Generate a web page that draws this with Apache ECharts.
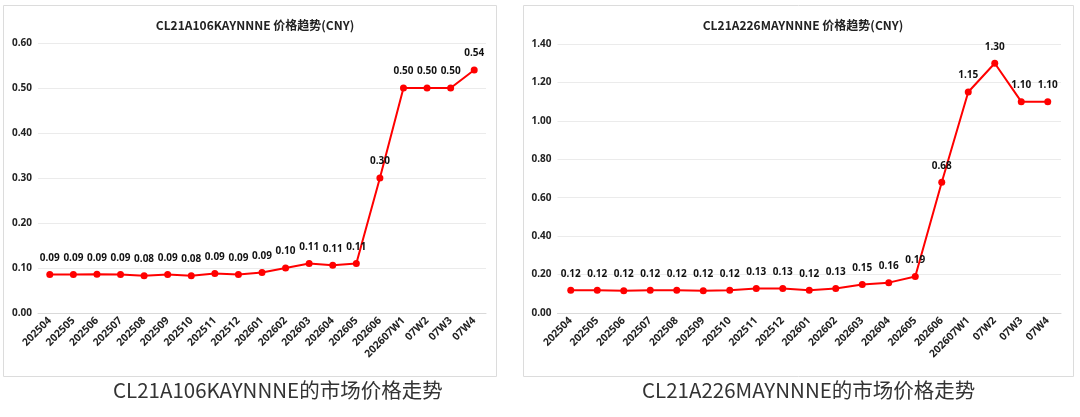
<!DOCTYPE html>
<html>
<head>
<meta charset="utf-8">
<script src="https://cdn.jsdelivr.net/npm/echarts@6/dist/echarts.min.js"></script>
<style>
  html, body { margin: 0; padding: 0; background: #fff; }
  #chart { width: 1080px; height: 417px; }
</style>
</head>
<body>
<div id="chart"></div>
<script>
// categories shared by both charts
const periods = ['202504', '202505', '202506', '202507', '202508', '202509', '202510', '202511', '202512',
    '202601', '202602', '202603', '202604', '202605', '202606', '202607W1', '07W2', '07W3', '07W4'];

// CL21A106KAYNNNE price (CNY)
const priceKay = [0.0855, 0.0855, 0.086, 0.0855, 0.083, 0.0855, 0.083, 0.088, 0.0855,
    0.09, 0.10, 0.11, 0.106, 0.11, 0.30, 0.50, 0.50, 0.50, 0.54];

// CL21A226MAYNNNE price (CNY)
const priceMay = [0.118, 0.118, 0.116, 0.118, 0.118, 0.116, 0.118, 0.127, 0.127,
    0.118, 0.127, 0.148, 0.158, 0.19, 0.68, 1.15, 1.30, 1.10, 1.10];

const chartTitles = ['CL21A106KAYNNNE 价格趋势(CNY)', 'CL21A226MAYNNNE 价格趋势(CNY)'];
const captions = ['CL21A106KAYNNNE的市场价格走势', 'CL21A226MAYNNNE的市场价格走势'];

const font = '"Noto Sans", "Noto Sans CJK SC", sans-serif';
const cjkFont = '"Noto Sans CJK SC", "Noto Sans", sans-serif';

const myChart = echarts.init(document.getElementById('chart'), null, {renderer: 'canvas'});

function xAxisFor(idx) {
    return {
        type: 'category',
        gridIndex: idx,
        data: periods,
        boundaryGap: true,
        axisLine: {lineStyle: {color: '#d9d9d9'}},
        axisTick: {show: false},
        axisLabel: {
            rotate: 45,
            interval: 0,
            margin: 6,
            color: '#222',
            fontSize: 10.5,
            fontWeight: 'bold',
            fontFamily: font
        }
    };
}

function yAxisFor(idx, max, step) {
    return {
        type: 'value',
        gridIndex: idx,
        min: 0,
        max: max,
        interval: step,
        axisLine: {show: false},
        axisTick: {show: false},
        splitLine: {lineStyle: {color: '#ebebeb'}},
        axisLabel: {
            color: '#222',
            fontSize: 10,
            fontWeight: 'bold',
            fontFamily: font,
            margin: 6,
            formatter: v => v.toFixed(2)
        }
    };
}

function lineFor(idx, data) {
    return {
        type: 'line',
        xAxisIndex: idx,
        yAxisIndex: idx,
        data: data,
        symbol: 'circle',
        symbolSize: 7,
        lineStyle: {color: '#ff0000', width: 2},
        itemStyle: {color: '#ff0000'},
        label: {
            show: true,
            position: 'top',
            distance: 8,
            color: '#111',
            fontSize: 10,
            fontWeight: 'bold',
            fontFamily: font,
            formatter: p => p.value.toFixed(2)
        },
        animation: false
    };
}

const option = {
    backgroundColor: '#ffffff',
    animation: false,
    title: [
        {
            text: chartTitles[0], left: 250, top: 14, textAlign: 'center',
            textStyle: {fontSize: 12, fontWeight: 'bold', color: '#222', fontFamily: cjkFont}
        },
        {
            text: chartTitles[1], left: 798, top: 14, textAlign: 'center',
            textStyle: {fontSize: 12, fontWeight: 'bold', color: '#222', fontFamily: cjkFont}
        }
    ],
    grid: [
        {left: 38, right: 594, top: 43, bottom: 104},
        {left: 557.5, right: 19, top: 44, bottom: 104}
    ],
    xAxis: [xAxisFor(0), xAxisFor(1)],
    yAxis: [yAxisFor(0, 0.6, 0.1), yAxisFor(1, 1.4, 0.2)],
    series: [lineFor(0, priceKay), lineFor(1, priceMay)],
    graphic: [
        {
            type: 'rect', silent: true, z: -1,
            shape: {x: 3.5, y: 5.5, width: 493, height: 371},
            style: {fill: 'none', stroke: '#dcdcdc', lineWidth: 1}
        },
        {
            type: 'rect', silent: true, z: -1,
            shape: {x: 523.5, y: 5.5, width: 550, height: 371},
            style: {fill: 'none', stroke: '#dcdcdc', lineWidth: 1}
        },
        {
            type: 'text', left: 113, top: 380,
            style: {text: captions[0], fontSize: 20.5, fill: '#333', fontFamily: cjkFont}
        },
        {
            type: 'text', left: 642, top: 380,
            style: {text: captions[1], fontSize: 20.5, fill: '#333', fontFamily: cjkFont}
        }
    ]
};

option && myChart.setOption(option);
</script>
</body>
</html>
